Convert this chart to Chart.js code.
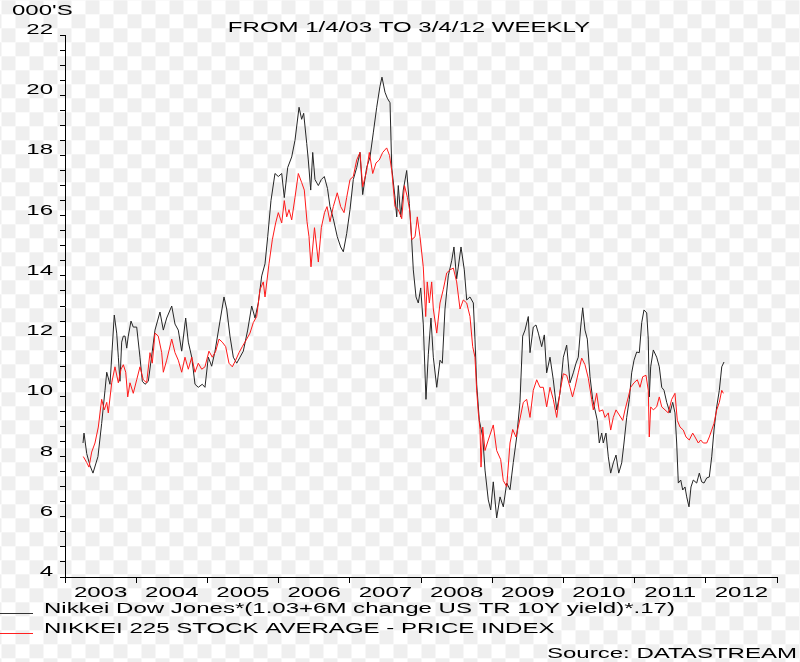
<!DOCTYPE html>
<html lang="en">
<head>
  <meta charset="UTF-8">
  <title>Nikkei – from 1/4/03 to 3/4/12 weekly</title>
  <style>
    body {
      margin: 0;
      width: 800px;
      height: 662px;
      overflow: hidden;
      background: #ffffff;
    }
    canvas { display: block; }
  </style>
</head>
<body>
  <canvas id="chart" width="800" height="662"></canvas>

  <script src="https://cdn.jsdelivr.net/npm/chart.js"></script>
  <script>
    // titles and labels
    const unitLabel = "000'S";
    const titleText = 'FROM 1/4/03 TO 3/4/12 WEEKLY';
    const sourceText = 'Source: DATASTREAM';
    const blackName = 'Nikkei Dow Jones*(1.03+6M change US TR 10Y yield)*.17)';
    const redName = 'NIKKEI 225 STOCK AVERAGE - PRICE INDEX';

    const yearLabels = ['2003', '2004', '2005', '2006', '2007', '2008', '2009', '2010', '2011', '2012'];
    const yLabels = [4, 6, 8, 10, 12, 14, 16, 18, 20, 22];

    // black series: dates as decimal years, values in thousands
    const blackDates = [
      2003.253, 2003.267, 2003.305, 2003.351, 2003.393, 2003.463, 2003.515, 2003.562, 2003.586, 2003.632,
      2003.692, 2003.726, 2003.749, 2003.772, 2003.796, 2003.819, 2003.843, 2003.867, 2003.889, 2003.927,
      2003.959, 2004.007, 2004.053, 2004.086, 2004.124, 2004.170, 2004.226, 2004.264, 2004.334, 2004.381,
      2004.428, 2004.499, 2004.545, 2004.591, 2004.639, 2004.695, 2004.732, 2004.780, 2004.826, 2004.872,
      2004.928, 2004.966, 2005.013, 2005.060, 2005.107, 2005.177, 2005.233, 2005.271, 2005.317, 2005.364,
      2005.412, 2005.458, 2005.504, 2005.566, 2005.622, 2005.669, 2005.715, 2005.763, 2005.809, 2005.847,
      2005.893, 2005.949, 2005.996, 2006.044, 2006.080, 2006.128, 2006.184, 2006.230, 2006.287, 2006.324,
      2006.352, 2006.395, 2006.417, 2006.451, 2006.479, 2006.511, 2006.558, 2006.600, 2006.642, 2006.687,
      2006.722, 2006.768, 2006.824, 2006.872, 2006.909, 2006.956, 2007.003, 2007.049, 2007.097, 2007.143,
      2007.181, 2007.237, 2007.284, 2007.330, 2007.378, 2007.424, 2007.452, 2007.494, 2007.527, 2007.565,
      2007.589, 2007.635, 2007.659, 2007.681, 2007.715, 2007.751, 2007.799, 2007.836, 2007.869, 2007.892,
      2007.930, 2007.962, 2007.996, 2008.032, 2008.070, 2008.103, 2008.140, 2008.173, 2008.221, 2008.267,
      2008.299, 2008.337, 2008.383, 2008.431, 2008.463, 2008.501, 2008.562, 2008.608, 2008.642, 2008.688,
      2008.735, 2008.758, 2008.782, 2008.819, 2008.867, 2008.899, 2008.945, 2008.979, 2009.015, 2009.063,
      2009.110, 2009.156, 2009.204, 2009.250, 2009.296, 2009.344, 2009.390, 2009.428, 2009.461, 2009.507,
      2009.531, 2009.577, 2009.615, 2009.648, 2009.695, 2009.732, 2009.765, 2009.812, 2009.858, 2009.906,
      2009.952, 2009.999, 2010.046, 2010.093, 2010.139, 2010.177, 2010.209, 2010.243, 2010.271, 2010.303,
      2010.336, 2010.374, 2010.411, 2010.444, 2010.476, 2010.504, 2010.538, 2010.560, 2010.598, 2010.631,
      2010.664, 2010.701, 2010.739, 2010.777, 2010.819, 2010.851, 2010.889, 2010.926, 2010.959, 2010.992,
      2011.029, 2011.066, 2011.100, 2011.132, 2011.170, 2011.192, 2011.206, 2011.226, 2011.263, 2011.310,
      2011.347, 2011.381, 2011.413, 2011.451, 2011.497, 2011.535, 2011.567, 2011.591, 2011.614, 2011.648,
      2011.676, 2011.708, 2011.732, 2011.764, 2011.792, 2011.824, 2011.872, 2011.909, 2011.942, 2011.975,
      2012.013, 2012.049, 2012.083, 2012.115, 2012.153, 2012.190, 2012.224, 2012.256
    ];
    const blackValues = [
      8.45, 8.78, 8.1, 7.7, 7.45, 8.0, 9.1, 10.2, 10.8, 10.4,
      12.7, 12.1, 11.3, 10.5, 11.8, 12.0, 12.0, 11.6, 12.0, 12.5,
      12.3, 12.3, 11.3, 10.5, 10.4, 10.5, 11.5, 12.2, 12.8, 12.2,
      12.6, 13.0, 12.4, 12.2, 11.5, 12.6, 11.8, 11.3, 10.4, 10.3,
      10.4, 10.3, 11.3, 11.0, 11.5, 12.5, 13.3, 12.9, 12.0, 11.3,
      11.1, 11.3, 11.5, 12.2, 13.0, 12.6, 13.1, 14.0, 14.4, 15.3,
      16.5, 17.4, 17.3, 17.4, 16.6, 17.6, 17.95, 18.5, 19.6, 19.2,
      19.4, 18.4, 17.85, 16.85, 18.1, 17.2, 17.0, 17.2, 17.3, 16.9,
      16.3, 15.9, 15.3, 14.96, 14.8, 15.4, 16.2, 17.2, 17.6, 18.1,
      16.7, 17.6, 17.95, 18.75, 19.6, 20.3, 20.6, 20.1, 19.9, 19.75,
      17.6, 16.6, 15.96, 17.0, 15.96, 16.85, 17.5, 16.4, 15.2, 14.2,
      13.3, 13.1, 13.6, 12.4, 9.9, 11.4, 12.6, 11.3, 10.3, 11.2,
      11.1, 12.9, 14.0, 14.5, 14.96, 13.9, 14.96, 14.2, 13.2, 13.3,
      13.1, 11.9, 10.4, 9.2, 8.65, 7.55, 6.56, 6.23, 7.16, 5.96,
      6.66, 6.33, 7.12, 6.9, 7.8, 8.65, 9.8, 12.0, 12.2, 12.65,
      11.45, 12.3, 12.37, 12.1, 11.65, 12.04, 10.78, 11.3, 10.55, 9.55,
      10.1, 11.3, 11.7, 10.45, 10.78, 11.1, 11.3, 12.3, 12.94, 12.2,
      11.9, 10.65, 9.9, 9.55, 9.2, 8.45, 8.78, 8.45, 8.78, 7.99,
      7.45, 7.79, 8.05, 7.45, 7.79, 8.45, 9.3, 9.9, 10.78, 11.2,
      11.47, 11.45, 12.45, 12.87, 12.77, 11.9, 9.98, 10.98, 11.54, 11.3,
      10.98, 10.3, 10.2, 9.8, 9.45, 9.8, 9.45, 8.45, 7.12, 7.22,
      6.89, 6.99, 6.66, 6.33, 6.99, 7.22, 7.12, 7.45, 7.16, 7.12,
      7.29, 7.32, 7.99, 8.88, 9.65, 10.2, 10.98, 11.14
    ];

    // red series: NIKKEI 225, thousands
    const redDates = [
      2003.257, 2003.305, 2003.337, 2003.375, 2003.421, 2003.468, 2003.515, 2003.552, 2003.586, 2003.608,
      2003.656, 2003.702, 2003.749, 2003.787, 2003.819, 2003.853, 2003.881, 2003.913, 2003.959, 2004.007,
      2004.053, 2004.100, 2004.147, 2004.194, 2004.226, 2004.264, 2004.310, 2004.358, 2004.381, 2004.428,
      2004.499, 2004.545, 2004.591, 2004.639, 2004.685, 2004.732, 2004.780, 2004.826, 2004.872, 2004.920,
      2004.966, 2005.022, 2005.069, 2005.117, 2005.163, 2005.209, 2005.257, 2005.303, 2005.350, 2005.397,
      2005.444, 2005.490, 2005.552, 2005.598, 2005.645, 2005.692, 2005.739, 2005.785, 2005.809, 2005.865,
      2005.912, 2005.959, 2005.996, 2006.044, 2006.080, 2006.114, 2006.146, 2006.184, 2006.230, 2006.277,
      2006.324, 2006.361, 2006.399, 2006.427, 2006.455, 2006.504, 2006.558, 2006.600, 2006.645, 2006.680,
      2006.722, 2006.768, 2006.824, 2006.872, 2006.919, 2006.956, 2007.003, 2007.049, 2007.097, 2007.143,
      2007.181, 2007.237, 2007.274, 2007.322, 2007.368, 2007.414, 2007.462, 2007.518, 2007.558, 2007.589,
      2007.635, 2007.681, 2007.729, 2007.768, 2007.810, 2007.846, 2007.869, 2007.916, 2007.948, 2007.986,
      2008.032, 2008.066, 2008.088, 2008.117, 2008.150, 2008.173, 2008.221, 2008.267, 2008.313, 2008.361,
      2008.407, 2008.454, 2008.501, 2008.548, 2008.594, 2008.642, 2008.688, 2008.726, 2008.758, 2008.782,
      2008.805, 2008.829, 2008.843, 2008.867, 2008.899, 2008.945, 2009.015, 2009.063, 2009.119, 2009.156,
      2009.204, 2009.250, 2009.288, 2009.334, 2009.390, 2009.437, 2009.484, 2009.531, 2009.577, 2009.625,
      2009.671, 2009.718, 2009.765, 2009.812, 2009.858, 2009.906, 2009.952, 2009.999, 2010.046, 2010.093,
      2010.128, 2010.163, 2010.209, 2010.257, 2010.303, 2010.350, 2010.397, 2010.420, 2010.467, 2010.504,
      2010.552, 2010.584, 2010.631, 2010.664, 2010.701, 2010.739, 2010.785, 2010.833, 2010.865, 2010.912,
      2010.945, 2010.992, 2011.038, 2011.076, 2011.114, 2011.160, 2011.192, 2011.206, 2011.226, 2011.263,
      2011.310, 2011.347, 2011.381, 2011.427, 2011.473, 2011.521, 2011.567, 2011.600, 2011.638, 2011.684,
      2011.722, 2011.768, 2011.816, 2011.848, 2011.895, 2011.928, 2011.965, 2012.013, 2012.049, 2012.083,
      2012.115, 2012.153, 2012.190, 2012.224, 2012.247
    ];
    const redValues = [
      8.0, 7.8, 7.65, 8.15, 8.45, 8.98, 9.9, 9.55, 9.8, 9.45,
      10.45, 10.98, 10.45, 10.9, 11.05, 10.8, 9.98, 10.45, 10.1, 10.55,
      10.98, 10.55, 10.45, 11.45, 11.1, 12.1, 12.0, 11.45, 10.8, 11.2,
      11.9, 11.45, 11.2, 10.8, 11.3, 10.9, 11.3, 10.8, 11.1, 10.9,
      10.98, 11.5, 11.3, 11.5, 11.9, 11.8, 11.65, 11.1, 10.98, 11.2,
      11.45, 11.65, 11.9, 12.1, 12.45, 12.65, 13.55, 13.8, 13.3, 14.4,
      15.2, 15.76, 16.1, 15.76, 16.5, 15.96, 16.2, 15.86, 16.6, 17.4,
      17.1, 16.85, 15.8, 15.3, 14.3, 15.6, 14.46, 15.6, 16.1, 16.3,
      15.8, 16.3, 16.76, 16.3, 16.1, 16.6, 17.2, 17.3, 17.85, 18.1,
      16.96, 17.5, 18.1, 17.4, 17.75, 17.85, 18.1, 18.25, 18.0, 17.5,
      16.3, 16.2, 15.9, 17.0, 16.6, 16.1, 15.2, 15.3, 15.96, 15.3,
      14.3, 12.65, 13.8, 13.1, 13.8, 12.9, 12.1, 13.1, 13.55, 14.1,
      14.2, 14.26, 13.8, 12.9, 13.2, 13.1, 12.65, 11.65, 11.3, 10.2,
      9.45, 8.9, 7.65, 8.98, 8.2, 8.55, 9.05, 8.2, 7.9, 7.2,
      7.0, 8.45, 8.9, 8.65, 9.25, 9.8, 9.9, 9.3, 10.2, 10.55,
      10.3, 10.3, 9.65, 10.3, 9.9, 9.3, 10.15, 10.75, 10.7, 10.3,
      9.98, 10.3, 10.78, 11.27, 11.05, 10.6, 9.9, 9.55, 10.1, 9.5,
      9.55, 9.3, 9.45, 8.88, 9.3, 9.55, 9.38, 9.2, 9.55, 9.98,
      10.3, 10.45, 10.55, 10.3, 10.65, 10.7, 10.2, 8.65, 9.65, 9.55,
      9.65, 9.98, 9.65, 9.55, 9.45, 9.9, 10.1, 9.2, 8.98, 8.88,
      8.65, 8.55, 8.78, 8.65, 8.45, 8.55, 8.45, 8.45, 8.65, 8.88,
      9.1, 9.55, 9.8, 10.2, 10.1
    ];

    const FONT = '15.5px "Liberation Sans", Arial, sans-serif';
    const SX = 1.55; // the original lettering is stretched sideways

    function wideText(ctx, text, x, y, align) {
      ctx.save();
      ctx.translate(x, y);
      ctx.scale(SX, 1);
      ctx.textAlign = align;
      ctx.textBaseline = 'alphabetic';
      ctx.fillText(text, 0, 0);
      ctx.restore();
    }

    // light checkerboard behind everything, like the source image
    const backdropPlugin = {
      id: 'backdrop',
      beforeDraw(chart) {
        const ctx = chart.ctx;
        const sq = 14, ox = 1.5, oy = 0.3;
        ctx.save();
        ctx.fillStyle = '#ffffff';
        ctx.fillRect(0, 0, chart.width, chart.height);
        ctx.fillStyle = '#efefef';
        for (let r = -1; r * sq < chart.height; r++) {
          for (let c = -1; c * sq < chart.width; c++) {
            if ((r + c) % 2 === 0) ctx.fillRect(ox + c * sq, oy + r * sq, sq, sq);
          }
        }
        ctx.restore();
      }
    };

    const labelsPlugin = {
      id: 'labels',
      afterDraw(chart) {
        const ctx = chart.ctx;
        const xs = chart.scales.x;
        const ys = chart.scales.y;
        const area = chart.chartArea;
        ctx.save();
        ctx.font = FONT;
        ctx.fillStyle = '#000';

        // y tick labels sit just above their tick
        yLabels.forEach(v => {
          wideText(ctx, String(v), area.left - 12, ys.getPixelForValue(v) - 1, 'right');
        });

        // year labels centred between year ticks
        yearLabels.forEach(y => {
          const yr = Number(y);
          const cx = (xs.getPixelForValue(yr) + xs.getPixelForValue(yr + 1)) / 2;
          wideText(ctx, y, cx, area.bottom + 20, 'center');
        });

        wideText(ctx, unitLabel, 12, 15, 'left');
        wideText(ctx, titleText, 409, 32, 'center');

        // legend
        ctx.lineWidth = 1;
        ctx.strokeStyle = '#333333';
        ctx.beginPath(); ctx.moveTo(0, 613.5); ctx.lineTo(33, 613.5); ctx.stroke();
        ctx.strokeStyle = '#ff2020';
        ctx.beginPath(); ctx.moveTo(0, 633.5); ctx.lineTo(33, 633.5); ctx.stroke();
        wideText(ctx, blackName, 44, 613, 'left');
        wideText(ctx, redName, 44, 633, 'left');

        wideText(ctx, sourceText, 797, 658, 'right');
        ctx.restore();
      }
    };

    const axisStyle = {
      grid: { display: true, drawOnChartArea: false, drawTicks: true, color: '#000', lineWidth: 1 },
      border: { display: true, color: '#000', width: 1 }
    };

    new Chart(document.getElementById('chart'), {
      type: 'line',
      data: {
        datasets: [
          {
            label: redName,
            data: redDates.map((d, i) => ({ x: d, y: redValues[i] })),
            borderColor: '#ff1a1a',
            borderWidth: 1,
            pointRadius: 0,
            tension: 0
          },
          {
            label: blackName,
            data: blackDates.map((d, i) => ({ x: d, y: blackValues[i] })),
            borderColor: '#262626',
            borderWidth: 1,
            pointRadius: 0,
            tension: 0
          }
        ]
      },
      options: {
        responsive: false,
        animation: false,
        devicePixelRatio: 1,
        layout: { padding: { left: 60, right: 23, top: 35, bottom: 79 } },
        plugins: {
          legend: { display: false },
          title: { display: false },
          tooltip: { enabled: false }
        },
        scales: {
          x: {
            type: 'linear',
            min: 2003,
            max: 2013,
            ticks: { display: false, stepSize: 1 },
            grid: Object.assign({}, axisStyle.grid, { tickLength: 6 }),
            border: axisStyle.border
          },
          y: {
            min: 4,
            max: 22,
            ticks: { display: false, stepSize: 0.5 },
            grid: Object.assign({}, axisStyle.grid, { tickLength: 5 }),
            border: axisStyle.border
          }
        }
      },
      plugins: [backdropPlugin, labelsPlugin]
    });
  </script>
</body>
</html>
